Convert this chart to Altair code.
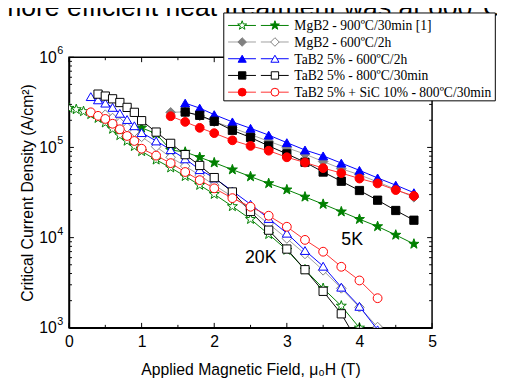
import altair as alt
import pandas as pd

# ---------------- data ----------------
# MgB2 - 900C/30min [1]
mg900_5k_x = [1.0, 1.2, 1.4, 1.6, 1.8, 2.0, 2.25, 2.5, 2.75, 3.0, 3.25, 3.5, 3.75, 4.0, 4.25, 4.5, 4.75]
mg900_5k_j = [1.65e5, 1.42e5, 9.37e4, 8.9e4, 7.78e4, 6.78e4, 5.67e4, 4.75e4, 3.99e4, 3.40e4, 2.83e4,
              2.35e4, 1.94e4, 1.60e4, 1.33e4, 1.07e4, 8.5e3]
mg900_20k_x = [0.0, 0.1, 0.2, 0.3, 0.4, 0.5, 0.6, 0.7, 0.8, 0.9, 1.0, 1.2, 1.4, 1.6, 1.8, 2.0, 2.25, 2.5,
               2.75, 3.0, 3.25, 3.5, 3.75, 4.0]
mg900_20k_j = [2.73e5, 2.64e5, 2.51e5, 2.33e5, 2.11e5, 1.88e5, 1.60e5, 1.36e5, 1.18e5, 1.03e5, 9.04e4,
               7.29e4, 5.96e4, 4.79e4, 3.82e4, 3.03e4, 2.22e4, 1.60e4, 1.09e4, 7.29e3, 4.41e3, 2.74e3,
               1.75e3, 1.0e3]
# MgB2 - 600C/2h
mg600_5k_x = [1.4, 1.6, 1.8, 2.0, 2.25, 2.5, 2.75, 3.0, 3.25, 3.5, 3.75, 4.0, 4.25, 4.5, 4.75]
mg600_5k_j = [2.45e5, 2.48e5, 2.24e5, 1.93e5, 1.65e5, 1.39e5, 1.17e5, 9.93e4, 8.43e4, 6.98e4, 5.81e4,
              4.97e4, 4.15e4, 3.43e4, 2.80e4]
mg600_20k_x = [0.5, 0.6, 0.7, 0.8, 0.9, 1.0, 1.2, 1.4, 1.6, 1.8, 2.0, 2.25, 2.5, 2.75, 3.0, 3.25, 3.5,
               3.75, 4.0, 4.25]
mg600_20k_j = [2.31e5, 2.12e5, 1.89e5, 1.67e5, 1.49e5, 1.31e5, 1.02e5, 7.78e4, 6.21e4, 4.91e4, 3.82e4,
               2.85e4, 2.04e4, 1.42e4, 9.78e3, 6.59e3, 4.34e3, 2.74e3, 1.69e3, 1.02e3]
# TaB2 5% - 600C/2h
ta600_5k_x = [1.6, 1.8, 2.0, 2.25, 2.5, 2.75, 3.0, 3.25, 3.5, 3.75, 4.0, 4.25, 4.5, 4.75]
ta600_5k_j = [3.10e5, 2.73e5, 2.31e5, 1.92e5, 1.63e5, 1.37e5, 1.13e5, 9.37e4, 8.06e4, 6.70e4, 5.57e4,
              4.59e4, 3.82e4, 3.15e4]
ta600_20k_x = [0.3, 0.4, 0.5, 0.6, 0.7, 0.8, 0.9, 1.0, 1.2, 1.4, 1.6, 1.8, 2.0, 2.25, 2.5, 2.75, 3.0,
               3.25, 3.5, 3.75, 4.0, 4.25]
ta600_20k_j = [3.66e5, 3.37e5, 3.10e5, 2.78e5, 2.39e5, 2.04e5, 1.74e5, 1.46e5, 1.18e5, 9.44e4, 7.47e4,
               5.67e4, 4.59e4, 3.29e4, 2.34e4, 1.63e4, 1.12e4, 7.2e3, 4.82e3, 2.82e3, 1.73e3, 9.5e2]
# TaB2 5% - 800C/30min
ta800_5k_x = [1.6, 1.8, 2.0, 2.25, 2.5, 2.75, 3.0, 3.25, 3.5, 3.75, 4.0, 4.25, 4.5, 4.75]
ta800_5k_j = [2.47e5, 2.27e5, 1.95e5, 1.55e5, 1.29e5, 1.04e5, 8.48e4, 6.86e4, 5.34e4, 4.22e4, 3.33e4,
              2.60e4, 2.00e4, 1.56e4]
ta800_20k_x = [0.4, 0.5, 0.6, 0.7, 0.8, 0.9, 1.0, 1.2, 1.4, 1.6, 1.8, 2.0, 2.25, 2.5, 2.75, 3.0, 3.25,
               3.5, 3.75, 4.0]
ta800_20k_j = [3.90e5, 3.71e5, 3.46e5, 3.15e5, 2.78e5, 2.45e5, 1.98e5, 1.48e5, 1.11e5, 8.32e4, 6.31e4,
               4.63e4, 3.21e4, 1.95e4, 1.21e4, 7.47e3, 4.41e3, 2.54e3, 1.43e3, 6.5e2]
# TaB2 5% + SiC 10% - 800C/30min
sic_5k_x = [1.4, 1.6, 1.8, 2.0, 2.25, 2.5, 2.75, 3.0, 3.25, 3.5, 3.75, 4.0, 4.25, 4.5, 4.75]
sic_5k_j = [2.22e5, 1.92e5, 1.65e5, 1.44e5, 1.20e5, 1.04e5, 9.2e4, 7.78e4, 6.81e4, 5.90e4, 5.20e4,
            4.52e4, 3.99e4, 3.37e4, 2.90e4]
sic_20k_x = [0.3, 0.4, 0.5, 0.6, 0.7, 0.8, 0.9, 1.0, 1.2, 1.4, 1.6, 1.8, 2.0, 2.25, 2.5, 2.75, 3.0,
             3.25, 3.5, 3.75, 4.0, 4.25]
sic_20k_j = [2.45e5, 2.24e5, 2.07e5, 1.83e5, 1.59e5, 1.34e5, 1.18e5, 9.68e4, 8.12e4, 6.70e4, 5.34e4,
             4.34e4, 3.52e4, 2.74e4, 2.20e4, 1.75e4, 1.32e4, 9.44e3, 6.98e3, 4.75e3, 3.35e3, 2.13e3]

legend_labels = ["MgB2 - 900ºC/30min [1]", "MgB2 - 600ºC/2h", "TaB2 5% - 600ºC/2h",
                 "TaB2 5% - 800ºC/30min", "TaB2 5% + SiC 10% - 800ºC/30min"]
header_text = "more efficient heat treatment was at 600°C"
x_major = [0, 1, 2, 3, 4, 5]
x_minor = [0.5, 1.5, 2.5, 3.5, 4.5]
y_major = [1e3, 1e4, 1e5, 1e6]
y_exp = ["3", "4", "5", "6"]
y_minor = [k * 10 ** n for n in (3, 4, 5) for k in range(2, 10)]
temp_labels = ["5K", "20K"]
temp_x = [3.90, 2.64]
temp_y = [9.4e3, 5.96e3]

# ---------------- styles ----------------
STAR = ("M0,-1L0.235,-0.324L0.951,-0.309L0.38,0.124L0.588,0.809L0,0.4L-0.588,0.809"
        "L-0.38,0.124L-0.951,-0.309L-0.235,-0.324Z")
SANS = "Liberation Sans"
SERIF = "Liberation Serif"
W, H = 369, 275

styles = [
    dict(mark="#008000", line="#008000", shape=STAR, size=115),
    dict(mark="#808080", line="#a0a0a0", shape="diamond", size=95),
    dict(mark="#0000ff", line="#0000ff", shape="triangle-up", size=85),
    dict(mark="#000000", line="#000000", shape="square", size=70),
    dict(mark="#ff0000", line="#ff3030", shape="circle", size=80),
]
series = [
    (mg900_5k_x, mg900_5k_j, mg900_20k_x, mg900_20k_j),
    (mg600_5k_x, mg600_5k_j, mg600_20k_x, mg600_20k_j),
    (ta600_5k_x, ta600_5k_j, ta600_20k_x, ta600_20k_j),
    (ta800_5k_x, ta800_5k_j, ta800_20k_x, ta800_20k_j),
    (sic_5k_x, sic_5k_j, sic_20k_x, sic_20k_j),
]

xs = alt.Scale(domain=[0, 5], nice=False, zero=False)
ys = alt.Scale(type="log", domain=[1e3, 1e6], nice=False)
X = alt.X("x:Q", scale=xs,
          axis=alt.Axis(values=x_major, ticks=False, grid=False, labelFontSize=16, labelFont=SANS,
                        labelColor="black", labelPadding=6, labelFlush=False, domainColor="black",
                        domainWidth=1.5, title="Applied Magnetic Field, μ₀H (T)", titleFont=SANS,
                        titleFontSize=16, titleFontWeight="normal", titleColor="black",
                        titleY=42, titleBaseline="middle"))
Y = alt.Y("y:Q", scale=ys,
          axis=alt.Axis(values=y_major, labelExpr="'10'", ticks=False, grid=False, labelFontSize=16,
                        labelFont=SANS, labelColor="black", labelPadding=13, labelFlush=False,
                        labelBaseline="middle", domainColor="black", domainWidth=1.5,
                        title="Critical Current Density (A/cm²)", titleFont=SANS, titleFontSize=16,
                        titleFontWeight="normal", titleColor="black", titleX=-42,
                        titleBaseline="middle", titleAngle=-90))

layers = []
# header text (cut off at the top)
layers.append(alt.Chart(pd.DataFrame({"t": [header_text]})).mark_text(
    align="left", baseline="alphabetic", fontSize=27, font=SANS, color="black"
).encode(x=alt.value(-71), y=alt.value(-42.3), text="t:N"))

# data
for (x5, j5, x20, j20), st in zip(series, styles):
    for xv, jv, filled in ((x20, j20, False), (x5, j5, True)):
        df = pd.DataFrame({"x": xv, "y": jv})
        base = alt.Chart(df)
        layers.append(base.mark_line(color=st["line"], strokeWidth=1, clip=True).encode(x=X, y=Y))
        layers.append(base.mark_point(shape=st["shape"], size=st["size"], filled=True,
                                      fill=st["mark"] if filled else "white", stroke=st["mark"],
                                      strokeWidth=1, opacity=1, clip=True).encode(x=X, y=Y))

# inward ticks
for vals, ln in ((x_major, 5), (x_minor, 3)):
    d = alt.Chart(pd.DataFrame({"x": vals}))
    layers.append(d.mark_rule(color="black", strokeWidth=1).encode(x=X, y=alt.value(H), y2=alt.value(H - ln)))
    layers.append(d.mark_rule(color="black", strokeWidth=1).encode(x=X, y=alt.value(0), y2=alt.value(ln)))
for vals, ln in ((y_major, 5), (y_minor, 3)):
    d = alt.Chart(pd.DataFrame({"y": vals}))
    layers.append(d.mark_rule(color="black", strokeWidth=1).encode(y=Y, x=alt.value(0), x2=alt.value(ln)))
    layers.append(d.mark_rule(color="black", strokeWidth=1).encode(y=Y, x=alt.value(W), x2=alt.value(W - ln)))

# superscript exponents of the y labels
layers.append(alt.Chart(pd.DataFrame({"y": y_major, "e": y_exp})).mark_text(
    align="center", baseline="middle", fontSize=11, font=SANS, color="black", dy=-6
).encode(y=Y, x=alt.value(-9), text="e:N"))

# temperature annotations
layers.append(alt.Chart(pd.DataFrame({"x": temp_x, "y": temp_y, "t": temp_labels})).mark_text(
    align="center", baseline="middle", fontSize=18, font=SANS, color="black"
).encode(x=X, y=Y, text="t:N"))

# legend box
one = pd.DataFrame({"k": [0]})
layers.append(alt.Chart(one).mark_rect(fill="white", stroke="black", strokeWidth=1).encode(
    x=alt.value(157.3), x2=alt.value(433.3), y=alt.value(-45), y2=alt.value(44.3)))
row_y = [-32.3, -15.5, 1.5, 18.5, 35.5]
for i, (lab, st) in enumerate(zip(legend_labels, styles)):
    yy = row_y[i]
    order = (False, True) if i == 0 else (True, False)
    for (xa, xb, xm), filled in zip(((161.7, 190, 176), (195, 223.3, 209.3)), order):
        c = alt.Chart(one)
        layers.append(c.mark_rule(color=st["line"], strokeWidth=1).encode(
            x=alt.value(xa), x2=alt.value(xb), y=alt.value(yy)))
        layers.append(c.mark_point(shape=st["shape"], size=st["size"] * 0.8, filled=True,
                                   fill=st["mark"] if filled else "white", stroke=st["mark"],
                                   strokeWidth=1, opacity=1).encode(x=alt.value(xm), y=alt.value(yy)))
    layers.append(alt.Chart(pd.DataFrame({"t": [lab]})).mark_text(
        align="left", baseline="middle", fontSize=13.8, font=SERIF, color="black"
    ).encode(x=alt.value(229), y=alt.value(yy + 1), text="t:N"))

chart = alt.layer(*layers).properties(
    width=W, height=H,
    autosize=alt.AutoSizeParams(type="none"),
    padding={"left": 62, "top": 47, "right": 66, "bottom": 51},
).configure_view(stroke="black", strokeWidth=1.5)

chart.save("out.html", embed_options={"renderer": "svg", "actions": False})
